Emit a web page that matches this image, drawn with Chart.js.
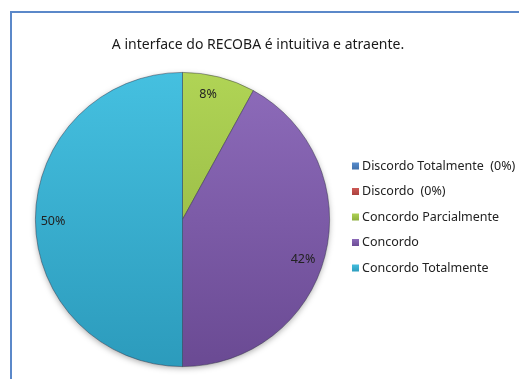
<!DOCTYPE html>
<html>
<head>
<meta charset="utf-8">
<script src="https://cdn.jsdelivr.net/npm/chart.js@4/dist/chart.umd.min.js"></script>
<style>
  body { margin: 0; background: #fff; overflow: hidden; }
  #frame {
    position: absolute; left: 10px; top: 11px;
    width: 520px; height: 380px;
    border-left: 2px solid #5b88c9; border-top: 2px solid #5b88c9;
  }
  canvas { position: absolute; left: 0; top: 0; }
</style>
</head>
<body>
<div id="frame"></div>
<canvas id="pie" width="519" height="379"></canvas>
<script>
const chartTitle = "A interface do RECOBA é intuitiva e atraente.";
const labels = ["Discordo Totalmente  (0%)", "Discordo  (0%)", "Concordo Parcialmente", "Concordo", "Concordo Totalmente"];
const values = [0, 0, 8, 42, 50];
const legendColors = ["#4f81bd", "#c0504d", "#9bbb59", "#8064a2", "#4bacc6"];
// top / bottom shades of each slice gradient
const topColors = ["#5a8fd0", "#d05a56", "#b0d455", "#8e6cbb", "#45c0e0"];
const bottomColors = ["#3f6ea8", "#a8403d", "#8cad3e", "#6a4a93", "#2c9bbc"];
const labelPos = [null, null, [208, 94], [303, 259], [53, 221]];

function sliceFill(ctx) {
  const chart = ctx.chart;
  const area = chart.chartArea;
  if (!area) return legendColors[ctx.dataIndex];
  const g = chart.ctx.createLinearGradient(0, area.top, 0, area.bottom);
  g.addColorStop(0, topColors[ctx.dataIndex]);
  g.addColorStop(1, bottomColors[ctx.dataIndex]);
  return g;
}

const extras = {
  id: "extras",
  beforeDatasetsDraw(chart) {
    // soft shadow under the pie
    const arc = chart.getDatasetMeta(0).data[0];
    const c = chart.ctx;
    c.save();
    c.shadowColor = "rgba(0,0,0,0.35)";
    c.shadowBlur = 6;
    c.shadowOffsetY = 2;
    c.fillStyle = "#fff";
    c.beginPath();
    c.arc(arc.x, arc.y, arc.outerRadius - 0.5, 0, Math.PI * 2);
    c.fill();
    c.restore();
  },
  afterDraw(chart) {
    const c = chart.ctx;
    c.save();
    c.fillStyle = "#1a1a1a";
    c.font = "14px 'Noto Sans'";
    c.textAlign = "center";
    c.textBaseline = "middle";
    c.fillText(chartTitle, 258, 45);

    // percentage labels
    const meta = chart.getDatasetMeta(0);
    c.font = "12.5px 'Noto Sans'";
    c.fillStyle = "#222";
    meta.data.forEach((arc, i) => {
      if (!values[i]) return;
      const mid = (arc.startAngle + arc.endAngle) / 2;
      let x = arc.x + Math.cos(mid) * arc.outerRadius * 0.87;
      let y = arc.y + Math.sin(mid) * arc.outerRadius * 0.87;
      if (labelPos[i]) { x = labelPos[i][0]; y = labelPos[i][1]; }
      c.fillText(values[i] + "%", x, y);
    });

    // legend
    c.textAlign = "left";
    c.font = "12.5px 'Noto Sans'";
    labels.forEach((lab, i) => {
      const y = 166 + i * 25.5;
      const g = c.createLinearGradient(0, y - 4, 0, y + 4);
      g.addColorStop(0, topColors[i]);
      g.addColorStop(1, bottomColors[i]);
      c.fillStyle = g;
      c.fillRect(352, y - 3.5, 7, 7);
      c.fillStyle = "#222";
      c.fillText(lab, 362, y);
    });
    c.restore();
  }
};

new Chart(document.getElementById("pie"), {
  type: "pie",
  data: {
    labels: labels,
    datasets: [{
      data: values,
      backgroundColor: sliceFill,
      borderColor: "rgba(40,40,60,0.55)",
      borderWidth: 0.8
    }]
  },
  options: {
    responsive: false,
    animation: false,
    layout: { padding: { left: 35, right: 189, top: 72, bottom: 12 } },
    plugins: {
      legend: { display: false },
      title: { display: false },
      tooltip: { enabled: false }
    }
  },
  plugins: [extras]
});
</script>
</body>
</html>
